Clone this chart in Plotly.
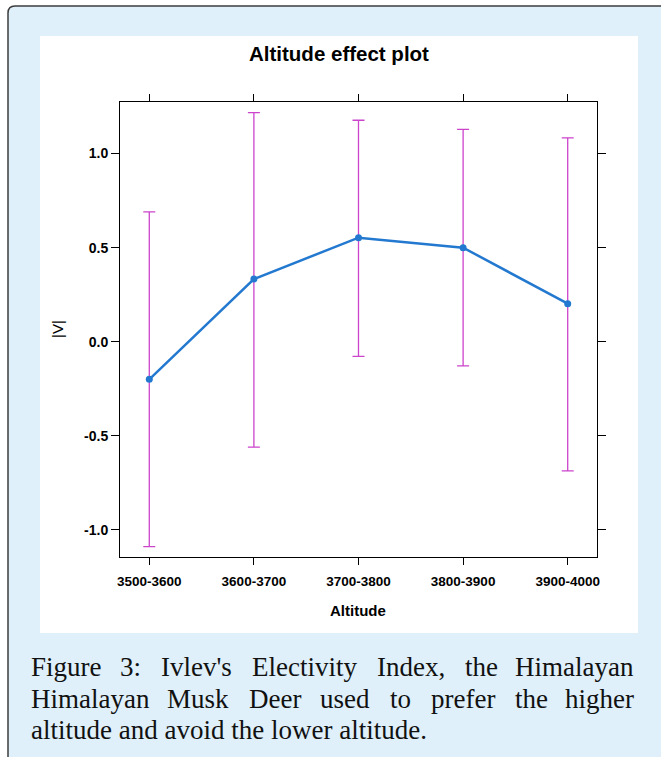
import plotly.graph_objects as go

# ---- data ----
categories = ["3500-3600", "3600-3700", "3700-3800", "3800-3900", "3900-4000"]
fit = [-0.20, 0.333, 0.553, 0.50, 0.202]
lower = [-1.089, -0.56, -0.078, -0.128, -0.686]
upper = [0.690, 1.218, 1.177, 1.128, 1.083]
y_ticks = [-1.0, -0.5, 0.0, 0.5, 1.0]
y_ticktext = ["-1.0", "-0.5", "0.0", "0.5", "1.0"]

title_text = "Altitude effect plot"
x_title = "Altitude"
y_title = "|V|"
caption_line1 = ["Figure", "3:", "Ivlev's", "Electivity", "Index,", "the", "Himalayan"]
caption_line2 = ["Himalayan", "Musk", "Deer", "used", "to", "prefer", "the", "higher"]
caption_line3 = "altitude and avoid the lower altitude."

# ---- layout geometry (pixels) ----
W, H = 661, 757
L, R, T, B = 120, 64, 102, 200
PW, PH = W - L - R, H - T - B


def px(x):
    return (x - L) / PW


def py(y):
    return (H - B - y) / PH


err_plus = [u - f for u, f in zip(upper, fit)]
err_minus = [f - l for f, l in zip(fit, lower)]

fig = go.Figure()
fig.add_trace(go.Scatter(
    x=categories, y=fit, mode="lines+markers",
    line=dict(color="#2379cf", width=2.5),
    marker=dict(color="#2379cf", size=7, symbol="circle"),
    error_y=dict(type="data", array=err_plus, arrayminus=err_minus,
                 color="#cc44cc", thickness=1.3, width=6, symmetric=False),
    showlegend=False,
))

# background boxes
r = 7
x0, y0, x1, y1 = 8, 6, 700, 800
path = (f"M {px(x0)},{py(y1)} L {px(x0)},{py(y0 + r)} "
        f"Q {px(x0)},{py(y0)} {px(x0 + r)},{py(y0)} "
        f"L {px(x1)},{py(y0)} L {px(x1)},{py(y1)} Z")
shapes = [
    dict(type="path", xref="paper", yref="paper", path=path,
         fillcolor="#dff0fa", line=dict(color="#3c3c3c", width=1.5), layer="below"),
    dict(type="rect", xref="paper", yref="paper", x0=px(40), x1=px(638),
         y0=py(633), y1=py(36), fillcolor="white", line=dict(width=0), layer="below"),
]

annotations = [
    dict(text=title_text, x=px(339), y=py(54), xref="paper", yref="paper",
         showarrow=False, xanchor="center", yanchor="middle",
         font=dict(family="Liberation Sans", size=20.5, color="black", weight="bold")),
    dict(text=x_title, x=px(358), y=py(610), xref="paper", yref="paper",
         showarrow=False, xanchor="center", yanchor="middle",
         font=dict(family="Liberation Sans", size=15, color="black", weight="bold")),
    dict(text=y_title, x=px(57), y=py(329), xref="paper", yref="paper",
         showarrow=False, xanchor="center", yanchor="middle", textangle=-90,
         font=dict(family="Liberation Sans", size=15, color="black")),
]

cap_font = dict(family="Liberation Serif", size=27, color="#111111")
line1_pos = [("left", 29), ("center", 130), ("center", 196), ("center", 304),
             ("center", 410.5), ("center", 481), ("right", 636)]
line2_pos = [("left", 29), ("center", 198), ("center", 274.5), ("center", 345),
             ("center", 400), ("center", 462.5), ("center", 531), ("right", 636)]
for words, poss, yc in [(caption_line1, line1_pos, 667), (caption_line2, line2_pos, 698.5)]:
    for w, (anc, xx) in zip(words, poss):
        annotations.append(dict(text=w, x=px(xx), y=py(yc), xref="paper", yref="paper",
                                showarrow=False, xanchor=anc, yanchor="middle",
                                font=cap_font))
annotations.append(dict(text=caption_line3, x=px(29), y=py(729.5), xref="paper", yref="paper",
                        showarrow=False, xanchor="left", yanchor="middle", font=cap_font))

tickfont = dict(family="Liberation Sans", size=14, color="black", weight="bold")
fig.update_layout(
    width=W, height=H, autosize=False,
    margin=dict(l=L, r=R, t=T, b=B, pad=0),
    paper_bgcolor="white", plot_bgcolor="white",
    shapes=shapes, annotations=annotations,
    xaxis=dict(type="category", range=[-0.28, 4.28], showgrid=False, zeroline=False,
               showline=True, linecolor="black", linewidth=1, mirror="ticks",
               ticks="outside", ticklen=7, tickcolor="black", tickwidth=1,
               ticklabelstandoff=5,
               tickfont=dict(family="Liberation Sans", size=13.5, color="black", weight="bold")),
    yaxis=dict(range=[-1.144, 1.274], showgrid=False, zeroline=False,
               showline=True, linecolor="black", linewidth=1, mirror="ticks",
               ticks="outside", ticklen=8, tickcolor="black", tickwidth=1,
               tickvals=y_ticks, ticktext=y_ticktext, tickfont=tickfont),
)

fig.write_html("out.html", config={"displayModeBar": False},
               post_script="document.body.style.margin='0px';")
